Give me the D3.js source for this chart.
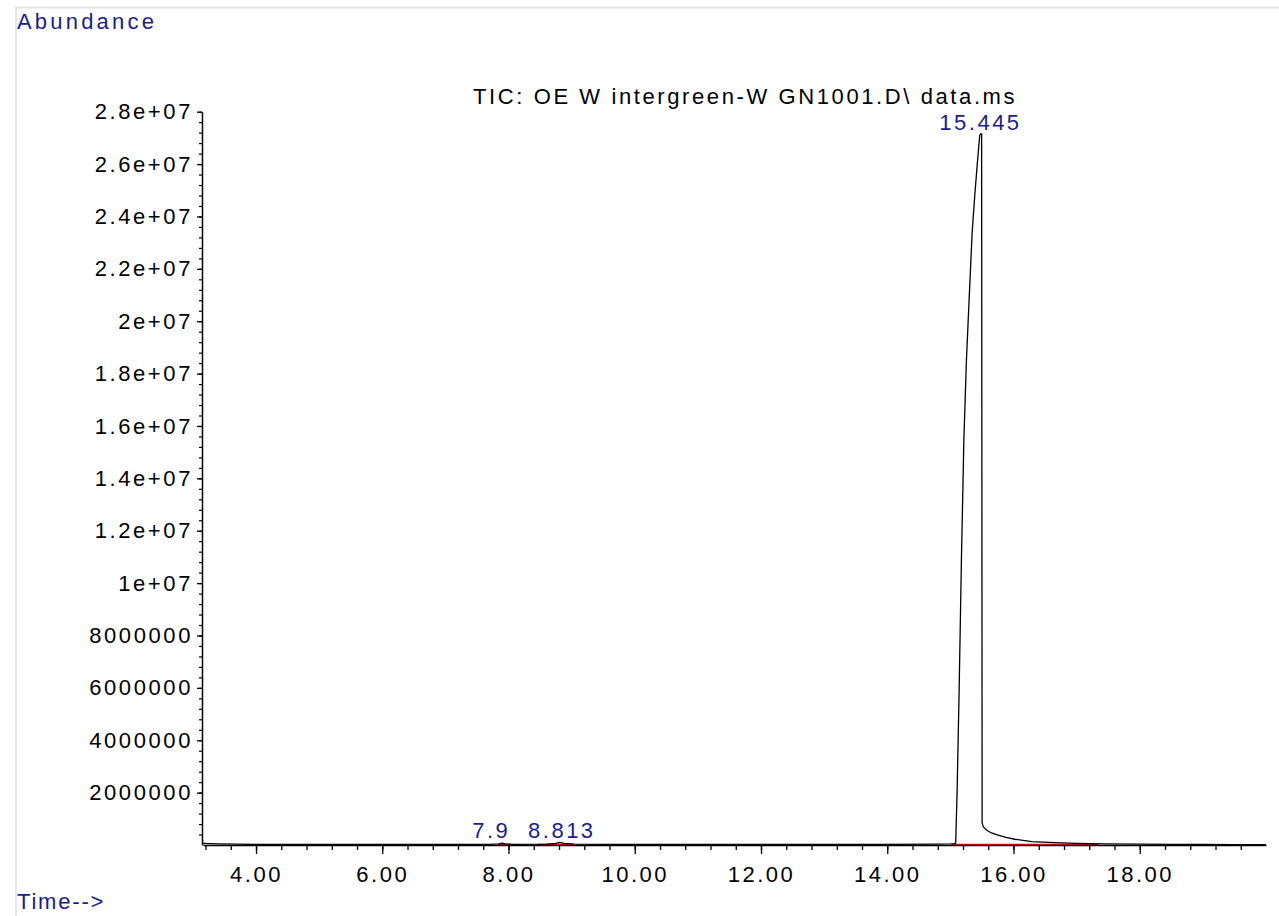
<!DOCTYPE html>
<html>
<head>
<meta charset="utf-8">
<script src="https://cdn.jsdelivr.net/npm/d3@7"></script>
<style>
  body { margin: 0; background: #fff; }
  text { font-family: "Liberation Sans", Arial, sans-serif; }
</style>
</head>
<body>
<svg id="chart" width="1279" height="916"></svg>
<script>
// retention time (min) and abundance of the TIC trace
const times = [3.16, 3.4, 3.7, 4.0, 5.0, 6.0, 7.0, 7.7, 7.85, 7.9, 7.95, 8.1, 8.6, 8.75, 8.813, 8.88, 9.05,
  10, 11, 12, 13, 14, 14.8, 15.0, 15.06, 15.084, 15.106, 15.138, 15.175, 15.214, 15.254, 15.297, 15.345,
  15.386, 15.424, 15.465, 15.48, 15.495, 15.503, 15.52, 15.571, 15.65, 15.757, 15.88, 16.02, 16.29, 16.65,
  17.0, 17.44, 18.0, 18.5, 19.0, 19.5, 20.0];
const abundance = [60000, 45000, 35000, 25000, 20000, 20000, 20000, 25000, 40000, 70000, 40000, 25000, 30000,
  60000, 100000, 60000, 30000, 20000, 20000, 20000, 20000, 25000, 30000, 40000, 50000, 76000, 1990000,
  5810000, 10900000, 15500000, 18500000, 20840000, 23400000, 24790000, 25940000, 27100000, 27150000,
  27150000, 840000, 700000, 570000, 460000, 380000, 290000, 220000, 126000, 88000, 60000, 40000, 30000,
  25000, 20000, 18000, 15000];

// labelled peaks and their integration baselines
const peakTimes = [7.9, 8.813, 15.445];
const peakLabels = ["7.9", "8.813", "15.445"];
const peakLabelValues = [250000, 250000, 27300000];
const baseStart = [7.83, 8.46, 15.02];
const baseEnd = [8.03, 9.02, 17.35];

const xMajorTicks = [4, 6, 8, 10, 12, 14, 16, 18];
const yMajorTicks = [2e6, 4e6, 6e6, 8e6, 1e7, 1.2e7, 1.4e7, 1.6e7, 1.8e7, 2e7, 2.2e7, 2.4e7, 2.6e7, 2.8e7];

const title = "TIC: OE W intergreen-W GN1001.D\\ data.ms";

const svg = d3.select("#chart");
const blue = "#1c1c8e";
const fs = 22;

// light frame of the report page
svg.append("path")
  .attr("d", "M16,930 L16,7.5 L1290,7.5")
  .attr("fill", "none")
  .attr("stroke", "#e6e6e6")
  .attr("stroke-width", 2);

const x = d3.scaleLinear().domain([3.16, 20.0]).range([203, 1266]);
const y = d3.scaleLinear().domain([0, 2.8e7]).range([845, 111.7]);

const fmtY = v => {
  if (v >= 1e7) {
    return (+(v / 1e7).toFixed(1)) + "e+07";
  }
  return String(v);
};

const xMinor = d3.range(3.2, 19.7, 0.4).map(d => +d.toFixed(1));
const yMinor = d3.range(4e5, 2.8e7 + 1, 4e5);

// x axis
svg.append("g")
  .attr("transform", "translate(0,845)")
  .call(d3.axisBottom(x).tickValues(xMinor).tickSize(5).tickFormat(""))
  .call(g => g.select(".domain").remove())
  .call(g => g.selectAll("line").attr("stroke", "#000").attr("stroke-width", 1.3));

svg.append("g")
  .attr("transform", "translate(0,845)")
  .call(d3.axisBottom(x).tickValues(xMajorTicks).tickSize(9).tickSizeOuter(0).tickPadding(12)
    .tickFormat(d => d.toFixed(2)))
  .call(g => g.select(".domain").attr("stroke", "#000").attr("stroke-width", 1.6))
  .call(g => g.selectAll("line").attr("stroke", "#000").attr("stroke-width", 1.3))
  .call(g => g.selectAll("text")
    .attr("font-size", fs)
    .attr("letter-spacing", 2.5)
    .attr("fill", "#000"));

// y axis
svg.append("g")
  .attr("transform", "translate(202,0)")
  .call(d3.axisLeft(y).tickValues(yMinor).tickSize(3).tickFormat(""))
  .call(g => g.select(".domain").remove())
  .call(g => g.selectAll("line").attr("stroke", "#000").attr("stroke-width", 1.2));

svg.append("g")
  .attr("transform", "translate(202,0)")
  .call(d3.axisLeft(y).tickValues(yMajorTicks).tickSize(5).tickSizeOuter(0).tickPadding(4)
    .tickFormat(fmtY))
  .call(g => g.select(".domain").attr("stroke", "#000").attr("stroke-width", 1.5))
  .call(g => g.selectAll("line").attr("stroke", "#000").attr("stroke-width", 1.3))
  .call(g => g.selectAll("text")
    .attr("font-size", fs)
    .attr("letter-spacing", 2.6)
    .attr("fill", "#000"));

// integration baselines
svg.append("g")
  .selectAll("line")
  .data(baseStart)
  .join("line")
  .attr("x1", d => x(d))
  .attr("x2", (d, i) => x(baseEnd[i]))
  .attr("y1", y(20000))
  .attr("y2", y(20000))
  .attr("stroke", "#b01010")
  .attr("stroke-width", 1.6);

// trace
const pts = times.map((t, i) => [t, abundance[i]]);
const line = d3.line()
  .x(d => x(d[0]))
  .y(d => y(d[1]));

svg.append("path")
  .datum(pts)
  .attr("d", line)
  .attr("fill", "none")
  .attr("stroke", "#000")
  .attr("stroke-width", 1.3);

// peak labels (first one nudged left so it does not collide)
svg.append("g")
  .selectAll("text")
  .data(peakTimes)
  .join("text")
  .attr("x", (d, i) => x(d) + (i === 0 ? -11 : 2))
  .attr("y", (d, i) => y(peakLabelValues[i]))
  .attr("text-anchor", "middle")
  .attr("font-size", fs)
  .attr("letter-spacing", 2.5)
  .attr("fill", blue)
  .text((d, i) => peakLabels[i]);

svg.append("text")
  .attr("x", 473)
  .attr("y", 104)
  .attr("font-size", fs)
  .attr("letter-spacing", 2.6)
  .attr("fill", "#000")
  .text(title);

svg.append("text")
  .attr("x", 17)
  .attr("y", 29)
  .attr("font-size", fs)
  .attr("letter-spacing", 3.2)
  .attr("fill", blue)
  .text("Abundance");

svg.append("text")
  .attr("x", 17)
  .attr("y", 909)
  .attr("font-size", fs)
  .attr("letter-spacing", 1.8)
  .attr("fill", blue)
  .text("Time-->");
</script>
</body>
</html>
